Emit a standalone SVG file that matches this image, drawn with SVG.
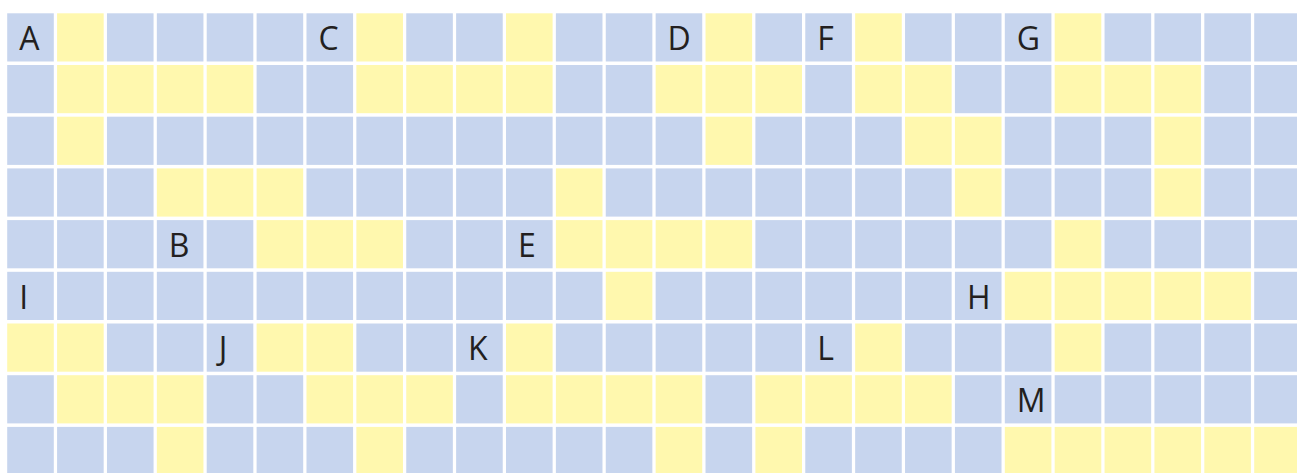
<svg xmlns="http://www.w3.org/2000/svg" width="1297" height="473" viewBox="0 0 1297 473">
<style>
rect{width:46.6px;height:48.2px}
.b{fill:#c7d5ee}
.y{fill:#fff8ae}
text{font-family:"Open Sans","Liberation Sans",sans-serif;font-size:32px;fill:#231f20}
</style>
<rect x="0" y="0" width="1297" height="473" fill="#ffffff" style="width:1297px;height:473px"/>
<g id="grid">
<g id="row0">
<rect class="b" x="7.2" y="13.3"/><rect class="y" x="57.08" y="13.3"/><rect class="b" x="106.96" y="13.3"/><rect class="b" x="156.84" y="13.3"/><rect class="b" x="206.72" y="13.3"/><rect class="b" x="256.6" y="13.3"/><rect class="b" x="306.48" y="13.3"/><rect class="y" x="356.36" y="13.3"/><rect class="b" x="406.24" y="13.3"/><rect class="b" x="456.12" y="13.3"/><rect class="y" x="506" y="13.3"/><rect class="b" x="555.88" y="13.3"/><rect class="b" x="605.76" y="13.3"/><rect class="b" x="655.64" y="13.3"/><rect class="y" x="705.52" y="13.3"/><rect class="b" x="755.4" y="13.3"/><rect class="b" x="805.28" y="13.3"/><rect class="y" x="855.16" y="13.3"/><rect class="b" x="905.04" y="13.3"/><rect class="b" x="954.92" y="13.3"/><rect class="b" x="1004.8" y="13.3"/><rect class="y" x="1054.68" y="13.3"/><rect class="b" x="1104.56" y="13.3"/><rect class="b" x="1154.44" y="13.3"/><rect class="b" x="1204.32" y="13.3"/><rect class="b" x="1254.2" y="13.3"/>
</g>
<g id="row1">
<rect class="b" x="7.2" y="65"/><rect class="y" x="57.08" y="65"/><rect class="y" x="106.96" y="65"/><rect class="y" x="156.84" y="65"/><rect class="y" x="206.72" y="65"/><rect class="b" x="256.6" y="65"/><rect class="b" x="306.48" y="65"/><rect class="y" x="356.36" y="65"/><rect class="y" x="406.24" y="65"/><rect class="y" x="456.12" y="65"/><rect class="y" x="506" y="65"/><rect class="b" x="555.88" y="65"/><rect class="b" x="605.76" y="65"/><rect class="y" x="655.64" y="65"/><rect class="y" x="705.52" y="65"/><rect class="y" x="755.4" y="65"/><rect class="b" x="805.28" y="65"/><rect class="y" x="855.16" y="65"/><rect class="y" x="905.04" y="65"/><rect class="b" x="954.92" y="65"/><rect class="b" x="1004.8" y="65"/><rect class="y" x="1054.68" y="65"/><rect class="y" x="1104.56" y="65"/><rect class="y" x="1154.44" y="65"/><rect class="b" x="1204.32" y="65"/><rect class="b" x="1254.2" y="65"/>
</g>
<g id="row2">
<rect class="b" x="7.2" y="116.7"/><rect class="y" x="57.08" y="116.7"/><rect class="b" x="106.96" y="116.7"/><rect class="b" x="156.84" y="116.7"/><rect class="b" x="206.72" y="116.7"/><rect class="b" x="256.6" y="116.7"/><rect class="b" x="306.48" y="116.7"/><rect class="b" x="356.36" y="116.7"/><rect class="b" x="406.24" y="116.7"/><rect class="b" x="456.12" y="116.7"/><rect class="b" x="506" y="116.7"/><rect class="b" x="555.88" y="116.7"/><rect class="b" x="605.76" y="116.7"/><rect class="b" x="655.64" y="116.7"/><rect class="y" x="705.52" y="116.7"/><rect class="b" x="755.4" y="116.7"/><rect class="b" x="805.28" y="116.7"/><rect class="b" x="855.16" y="116.7"/><rect class="y" x="905.04" y="116.7"/><rect class="y" x="954.92" y="116.7"/><rect class="b" x="1004.8" y="116.7"/><rect class="b" x="1054.68" y="116.7"/><rect class="b" x="1104.56" y="116.7"/><rect class="y" x="1154.44" y="116.7"/><rect class="b" x="1204.32" y="116.7"/><rect class="b" x="1254.2" y="116.7"/>
</g>
<g id="row3">
<rect class="b" x="7.2" y="168.4"/><rect class="b" x="57.08" y="168.4"/><rect class="b" x="106.96" y="168.4"/><rect class="y" x="156.84" y="168.4"/><rect class="y" x="206.72" y="168.4"/><rect class="y" x="256.6" y="168.4"/><rect class="b" x="306.48" y="168.4"/><rect class="b" x="356.36" y="168.4"/><rect class="b" x="406.24" y="168.4"/><rect class="b" x="456.12" y="168.4"/><rect class="b" x="506" y="168.4"/><rect class="y" x="555.88" y="168.4"/><rect class="b" x="605.76" y="168.4"/><rect class="b" x="655.64" y="168.4"/><rect class="b" x="705.52" y="168.4"/><rect class="b" x="755.4" y="168.4"/><rect class="b" x="805.28" y="168.4"/><rect class="b" x="855.16" y="168.4"/><rect class="b" x="905.04" y="168.4"/><rect class="y" x="954.92" y="168.4"/><rect class="b" x="1004.8" y="168.4"/><rect class="b" x="1054.68" y="168.4"/><rect class="b" x="1104.56" y="168.4"/><rect class="y" x="1154.44" y="168.4"/><rect class="b" x="1204.32" y="168.4"/><rect class="b" x="1254.2" y="168.4"/>
</g>
<g id="row4">
<rect class="b" x="7.2" y="220.1"/><rect class="b" x="57.08" y="220.1"/><rect class="b" x="106.96" y="220.1"/><rect class="b" x="156.84" y="220.1"/><rect class="b" x="206.72" y="220.1"/><rect class="y" x="256.6" y="220.1"/><rect class="y" x="306.48" y="220.1"/><rect class="y" x="356.36" y="220.1"/><rect class="b" x="406.24" y="220.1"/><rect class="b" x="456.12" y="220.1"/><rect class="b" x="506" y="220.1"/><rect class="y" x="555.88" y="220.1"/><rect class="y" x="605.76" y="220.1"/><rect class="y" x="655.64" y="220.1"/><rect class="y" x="705.52" y="220.1"/><rect class="b" x="755.4" y="220.1"/><rect class="b" x="805.28" y="220.1"/><rect class="b" x="855.16" y="220.1"/><rect class="b" x="905.04" y="220.1"/><rect class="b" x="954.92" y="220.1"/><rect class="b" x="1004.8" y="220.1"/><rect class="y" x="1054.68" y="220.1"/><rect class="b" x="1104.56" y="220.1"/><rect class="b" x="1154.44" y="220.1"/><rect class="b" x="1204.32" y="220.1"/><rect class="b" x="1254.2" y="220.1"/>
</g>
<g id="row5">
<rect class="b" x="7.2" y="271.8"/><rect class="b" x="57.08" y="271.8"/><rect class="b" x="106.96" y="271.8"/><rect class="b" x="156.84" y="271.8"/><rect class="b" x="206.72" y="271.8"/><rect class="b" x="256.6" y="271.8"/><rect class="b" x="306.48" y="271.8"/><rect class="b" x="356.36" y="271.8"/><rect class="b" x="406.24" y="271.8"/><rect class="b" x="456.12" y="271.8"/><rect class="b" x="506" y="271.8"/><rect class="b" x="555.88" y="271.8"/><rect class="y" x="605.76" y="271.8"/><rect class="b" x="655.64" y="271.8"/><rect class="b" x="705.52" y="271.8"/><rect class="b" x="755.4" y="271.8"/><rect class="b" x="805.28" y="271.8"/><rect class="b" x="855.16" y="271.8"/><rect class="b" x="905.04" y="271.8"/><rect class="b" x="954.92" y="271.8"/><rect class="y" x="1004.8" y="271.8"/><rect class="y" x="1054.68" y="271.8"/><rect class="y" x="1104.56" y="271.8"/><rect class="y" x="1154.44" y="271.8"/><rect class="y" x="1204.32" y="271.8"/><rect class="b" x="1254.2" y="271.8"/>
</g>
<g id="row6">
<rect class="y" x="7.2" y="323.5"/><rect class="y" x="57.08" y="323.5"/><rect class="b" x="106.96" y="323.5"/><rect class="b" x="156.84" y="323.5"/><rect class="b" x="206.72" y="323.5"/><rect class="y" x="256.6" y="323.5"/><rect class="y" x="306.48" y="323.5"/><rect class="b" x="356.36" y="323.5"/><rect class="b" x="406.24" y="323.5"/><rect class="b" x="456.12" y="323.5"/><rect class="y" x="506" y="323.5"/><rect class="b" x="555.88" y="323.5"/><rect class="b" x="605.76" y="323.5"/><rect class="b" x="655.64" y="323.5"/><rect class="b" x="705.52" y="323.5"/><rect class="b" x="755.4" y="323.5"/><rect class="b" x="805.28" y="323.5"/><rect class="y" x="855.16" y="323.5"/><rect class="b" x="905.04" y="323.5"/><rect class="b" x="954.92" y="323.5"/><rect class="b" x="1004.8" y="323.5"/><rect class="y" x="1054.68" y="323.5"/><rect class="b" x="1104.56" y="323.5"/><rect class="b" x="1154.44" y="323.5"/><rect class="b" x="1204.32" y="323.5"/><rect class="b" x="1254.2" y="323.5"/>
</g>
<g id="row7">
<rect class="b" x="7.2" y="375.2"/><rect class="y" x="57.08" y="375.2"/><rect class="y" x="106.96" y="375.2"/><rect class="y" x="156.84" y="375.2"/><rect class="b" x="206.72" y="375.2"/><rect class="b" x="256.6" y="375.2"/><rect class="y" x="306.48" y="375.2"/><rect class="y" x="356.36" y="375.2"/><rect class="y" x="406.24" y="375.2"/><rect class="b" x="456.12" y="375.2"/><rect class="y" x="506" y="375.2"/><rect class="y" x="555.88" y="375.2"/><rect class="y" x="605.76" y="375.2"/><rect class="y" x="655.64" y="375.2"/><rect class="b" x="705.52" y="375.2"/><rect class="y" x="755.4" y="375.2"/><rect class="y" x="805.28" y="375.2"/><rect class="y" x="855.16" y="375.2"/><rect class="y" x="905.04" y="375.2"/><rect class="b" x="954.92" y="375.2"/><rect class="b" x="1004.8" y="375.2"/><rect class="b" x="1054.68" y="375.2"/><rect class="b" x="1104.56" y="375.2"/><rect class="b" x="1154.44" y="375.2"/><rect class="b" x="1204.32" y="375.2"/><rect class="b" x="1254.2" y="375.2"/>
</g>
<g id="row8">
<rect class="b" x="7.2" y="426.9"/><rect class="b" x="57.08" y="426.9"/><rect class="b" x="106.96" y="426.9"/><rect class="y" x="156.84" y="426.9"/><rect class="b" x="206.72" y="426.9"/><rect class="b" x="256.6" y="426.9"/><rect class="b" x="306.48" y="426.9"/><rect class="y" x="356.36" y="426.9"/><rect class="b" x="406.24" y="426.9"/><rect class="b" x="456.12" y="426.9"/><rect class="b" x="506" y="426.9"/><rect class="b" x="555.88" y="426.9"/><rect class="b" x="605.76" y="426.9"/><rect class="y" x="655.64" y="426.9"/><rect class="b" x="705.52" y="426.9"/><rect class="y" x="755.4" y="426.9"/><rect class="b" x="805.28" y="426.9"/><rect class="b" x="855.16" y="426.9"/><rect class="b" x="905.04" y="426.9"/><rect class="b" x="954.92" y="426.9"/><rect class="y" x="1004.8" y="426.9"/><rect class="y" x="1054.68" y="426.9"/><rect class="y" x="1104.56" y="426.9"/><rect class="y" x="1154.44" y="426.9"/><rect class="y" x="1204.32" y="426.9"/><rect class="y" x="1254.2" y="426.9"/>
</g>
</g>
<g id="labels">
<text x="19.2" y="50">A</text>
<text x="318.5" y="50">C</text>
<text x="667.6" y="50">D</text>
<text x="817.3" y="50">F</text>
<text x="1016.8" y="50">G</text>
<text x="168.8" y="256.8">B</text>
<text x="518" y="256.8">E</text>
<text x="19.2" y="308.5">I</text>
<text x="966.9" y="308.5">H</text>
<text x="218.7" y="360.2">J</text>
<text x="468.1" y="360.2">K</text>
<text x="817.3" y="360.2">L</text>
<text x="1016.8" y="411.9">M</text>
</g>
</svg>
